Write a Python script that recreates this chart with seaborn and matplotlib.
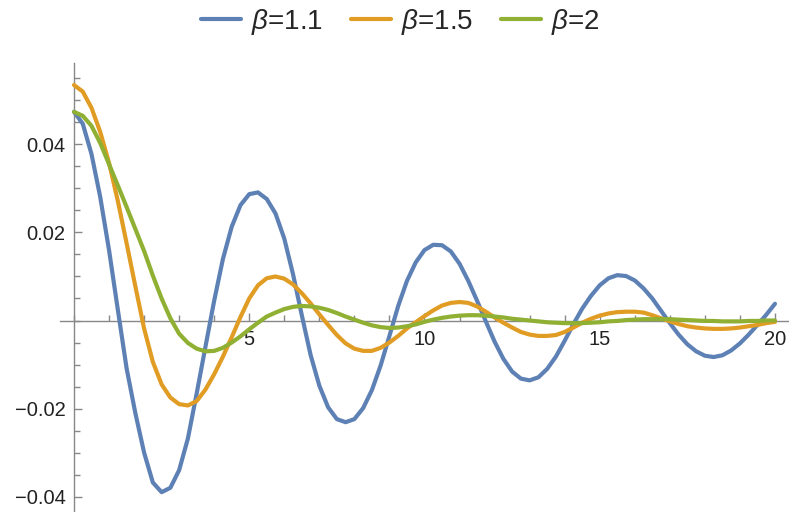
import numpy as np
import pandas as pd
import matplotlib
matplotlib.use("Agg")
import matplotlib.pyplot as plt
import seaborn as sns
from matplotlib.ticker import FixedLocator, FixedFormatter, MultipleLocator
from matplotlib.lines import Line2D

# sample positions (read every 0.25 along t)
t = np.arange(0, 20.001, 0.25)

beta_11 = [
    0.0474, 0.0447, 0.0378, 0.0280, 0.0160, 0.0025, -0.0108, -0.0210, -0.0300,
    -0.0368, -0.0390, -0.0380, -0.0340, -0.0268, -0.0166, -0.0060, 0.0045,
    0.0140, 0.0213, 0.0262, 0.0287, 0.0291, 0.0276, 0.0243, 0.0186, 0.0105,
    0.0012, -0.0078, -0.0148, -0.0197, -0.0224, -0.0231, -0.0224, -0.0199,
    -0.0158, -0.0102, -0.0035, 0.0033, 0.0090, 0.0132, 0.0160, 0.0172, 0.0171,
    0.0157, 0.0129, 0.0090, 0.0045, -0.0002, -0.0048, -0.0087, -0.0116,
    -0.0132, -0.0136, -0.0129, -0.0110, -0.0082, -0.0046, -0.0008, 0.0027,
    0.0056, 0.0080, 0.0096, 0.0103, 0.0101, 0.0091, 0.0073, 0.0050, 0.0022,
    -0.0006, -0.0032, -0.0054, -0.0070, -0.0080, -0.0083, -0.0079, -0.0068,
    -0.0052, -0.0032, -0.0010, 0.0013, 0.0038,
]

beta_15 = [
    0.0535, 0.0520, 0.0483, 0.0428, 0.0358, 0.0272, 0.0176, 0.0078, -0.0018,
    -0.0094, -0.0145, -0.0175, -0.0190, -0.0193, -0.0183, -0.0157, -0.0122,
    -0.0082, -0.0038, 0.0008, 0.0050, 0.0080, 0.0096, 0.0100, 0.0095, 0.0082,
    0.0062, 0.0039, 0.0014, -0.0010, -0.0033, -0.0052, -0.0064, -0.0069,
    -0.0069, -0.0062, -0.0050, -0.0035, -0.0018, -0.0004, 0.0010, 0.0023,
    0.0034, 0.0040, 0.0042, 0.0040, 0.0032, 0.0020, 0.0007, -0.0005, -0.0016,
    -0.0026, -0.0032, -0.0035, -0.0035, -0.0033, -0.0026, -0.0016, -0.0005,
    0.0004, 0.0011, 0.0016, 0.0019, 0.0020, 0.0020, 0.0018, 0.0012, 0.0005,
    -0.0002, -0.0008, -0.0013, -0.0016, -0.0018, -0.0019, -0.0019, -0.0018,
    -0.0016, -0.0013, -0.0010, -0.0006, -0.0003,
]

beta_2 = [
    0.0474, 0.0465, 0.0442, 0.0403, 0.0355, 0.0307, 0.0258, 0.0208, 0.0158,
    0.0102, 0.0050, 0.0005, -0.0030, -0.0051, -0.0064, -0.0070, -0.0069,
    -0.0062, -0.0050, -0.0036, -0.0020, -0.0005, 0.0009, 0.0018, 0.0026,
    0.0031, 0.0033, 0.0032, 0.0029, 0.0024, 0.0017, 0.0009, 0.0002, -0.0005,
    -0.0011, -0.0015, -0.0017, -0.0016, -0.0013, -0.0009, -0.0003, 0.0002,
    0.0006, 0.0009, 0.0011, 0.0012, 0.0012, 0.0011, 0.0009, 0.0007, 0.0004,
    0.0002, 0.0000, -0.0002, -0.0004, -0.0005, -0.0006, -0.0006, -0.0006,
    -0.0005, -0.0004, -0.0002, -0.0001, 0.0001, 0.0002, 0.0003, 0.0003,
    0.0003, 0.0003, 0.0002, 0.0001, 0.0000, -0.0001, -0.0001, -0.0002,
    -0.0002, -0.0002, -0.0001, -0.0001, 0.0000, 0.0000,
]

labels = [r"$\beta$=1.1", r"$\beta$=1.5", r"$\beta$=2"]
colors = ["#5E81B5", "#E19C24", "#8FB032"]

x_ticks = [5, 10, 15, 20]
y_ticks = [-0.04, -0.02, 0.02, 0.04]
y_tick_labels = ["\u22120.04", "\u22120.02", "0.02", "0.04"]


def build_frame():
    frames = []
    for lab, vals in zip(labels, [beta_11, beta_15, beta_2]):
        frames.append(pd.DataFrame({"t": t, "value": vals, "series": lab}))
    return pd.concat(frames, ignore_index=True)


def plot_curves(df):
    sns.set_style("white")
    plt.rcParams["font.family"] = ["Liberation Sans", "DejaVu Sans"]
    plt.rcParams["mathtext.fontset"] = "custom"
    plt.rcParams["mathtext.it"] = "Liberation Sans:italic"
    plt.rcParams["mathtext.rm"] = "Liberation Sans"

    fig = plt.figure(figsize=(7.89, 5.12), dpi=100)
    ax = fig.add_axes([0.076, 0.0, 0.924, 0.877])

    sns.lineplot(data=df, x="t", y="value", hue="series", palette=colors,
                 linewidth=3.0, ax=ax, legend=False, sort=False,
                 solid_joinstyle="round", solid_capstyle="round")

    ax.set_xlim(-0.4, 20.4)
    ax.set_ylim(-0.0435, 0.0585)

    # axes crossing at the origin, no frame
    for side in ["top", "right"]:
        ax.spines[side].set_visible(False)
    for side in ["left", "bottom"]:
        ax.spines[side].set_position(("data", 0))
        ax.spines[side].set_color("#888888")
        ax.spines[side].set_linewidth(1.0)
        ax.spines[side].set_zorder(0.5)

    ax.xaxis.set_major_locator(FixedLocator(x_ticks))
    ax.xaxis.set_minor_locator(MultipleLocator(1))
    ax.yaxis.set_major_locator(FixedLocator(y_ticks))
    ax.yaxis.set_major_formatter(FixedFormatter(y_tick_labels))
    ax.yaxis.set_minor_locator(MultipleLocator(0.005))

    ax.tick_params(axis="both", which="both", direction="in", color="#888888",
                   labelcolor="#222222", labelsize=14.5,
                   bottom=True, left=True, top=False, right=False)
    ax.tick_params(axis="x", which="major", length=6, width=1, pad=7)
    ax.tick_params(axis="x", which="minor", length=4, width=1)
    ax.tick_params(axis="y", which="major", length=6, width=1, pad=6)
    ax.tick_params(axis="y", which="minor", length=4, width=1)
    ax.set_xlabel("")
    ax.set_ylabel("")

    handles = [Line2D([0], [0], color=c, lw=3.0) for c in colors]
    fig.legend(handles, labels, loc="center", bbox_to_anchor=(0.507, 0.957),
               ncol=3, frameon=False, fontsize=20, handlelength=1.45,
               handletextpad=0.35, columnspacing=1.0)

    fig.savefig("out.png", dpi=100)


def main():
    df = build_frame()
    plot_curves(df)


if __name__ == "__main__":
    main()
